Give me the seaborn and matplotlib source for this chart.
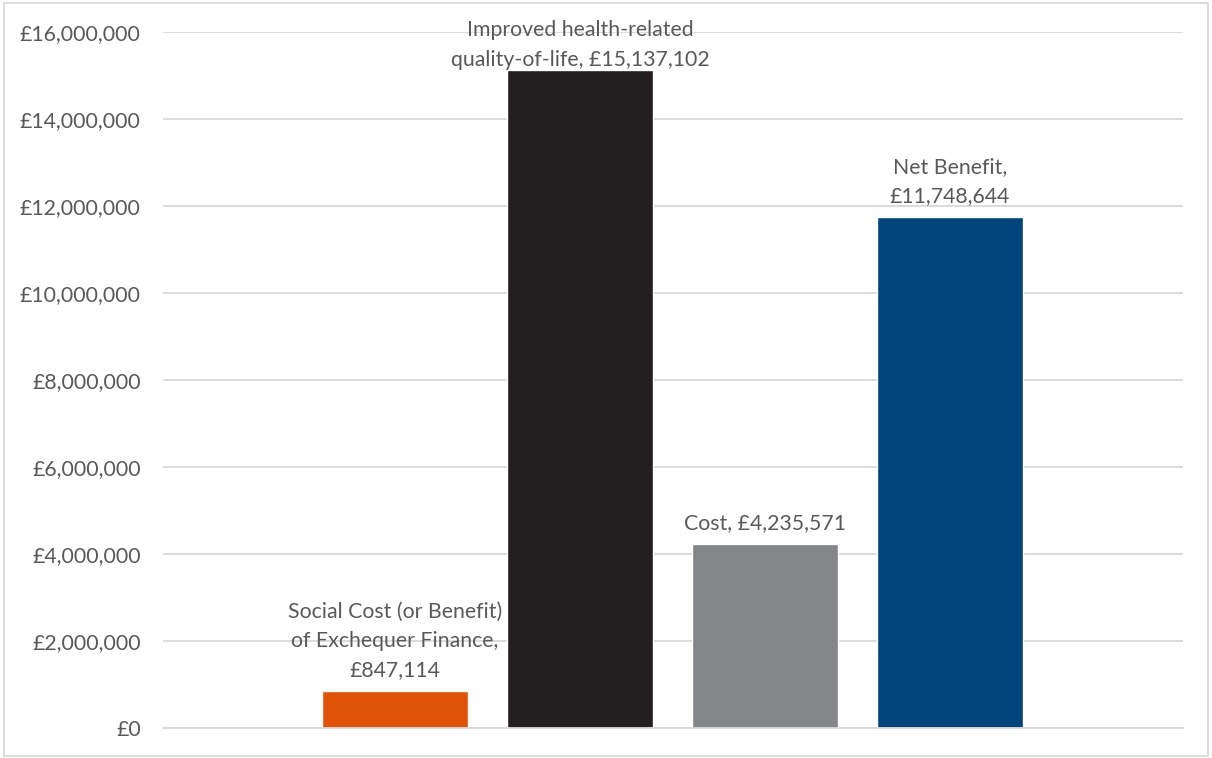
import matplotlib
matplotlib.use("Agg")
import matplotlib.pyplot as plt
from matplotlib.patches import Rectangle
from matplotlib.ticker import FuncFormatter
import seaborn as sns
import pandas as pd

# Data
categories = [
    "Social Cost (or Benefit)\nof Exchequer Finance",
    "Improved health-related\nquality-of-life",
    "Cost",
    "Net Benefit",
]
label_separators = [",\n", ", ", ", ", ",\n"]
values = [847114, 15137102, 4235571, 11748644]
colors = ["#E05206", "#231F20", "#858689", "#00457C"]
y_ticks = [0, 2000000, 4000000, 6000000, 8000000, 10000000, 12000000, 14000000, 16000000]

sns.set_theme(style="white")
plt.rcParams["font.family"] = ["Lato", "DejaVu Sans"]

text_color = "#595959"
grid_color = "#D9D9D9"
font_size = 15.3

df = pd.DataFrame({"category": categories, "value": values})

fig = plt.figure(figsize=(12.12, 7.58), dpi=100)
ax = fig.add_axes([0.1345, 0.0396, 0.8416, 0.9182])

sns.barplot(data=df, x="category", y="value", hue="category",
            palette=colors, width=0.79, legend=False, ax=ax,
            saturation=1)

ax.set_xlim(-1.254, 4.26)
ax.set_ylim(y_ticks[0], y_ticks[-1])
ax.set_yticks(y_ticks)
ax.yaxis.set_major_formatter(FuncFormatter(lambda v, p: f"£{v:,.0f}"))
ax.tick_params(axis="y", labelsize=font_size, colors=text_color, length=0, pad=16)
ax.set_xticks([])
ax.set_xlabel("")
ax.set_ylabel("")

ax.grid(axis="y", color=grid_color, linewidth=1.3)
ax.set_axisbelow(True)
for side in ["left", "right", "top"]:
    ax.spines[side].set_visible(False)
ax.spines["bottom"].set_color(grid_color)
ax.spines["bottom"].set_linewidth(1.3)

# Value labels above each bar; a label for a bar reaching the top of the
# scale is tucked down so it stays inside the chart frame
for i, (name, sep, v) in enumerate(zip(categories, label_separators, values)):
    offset = 0 if v > 0.9 * y_ticks[-1] else 8
    ax.annotate(f"{name}{sep}£{v:,.0f}", xy=(i, v), xytext=(0, offset),
                textcoords="offset points", ha="center", va="bottom",
                fontsize=font_size, color=text_color, linespacing=1.57,
                annotation_clip=False)

# Chart frame
fig.patches.append(Rectangle((0.003, 0.002), 0.994, 0.994, transform=fig.transFigure,
                             fill=False, edgecolor=grid_color, linewidth=1.3))

fig.savefig("out.png", dpi=100)
